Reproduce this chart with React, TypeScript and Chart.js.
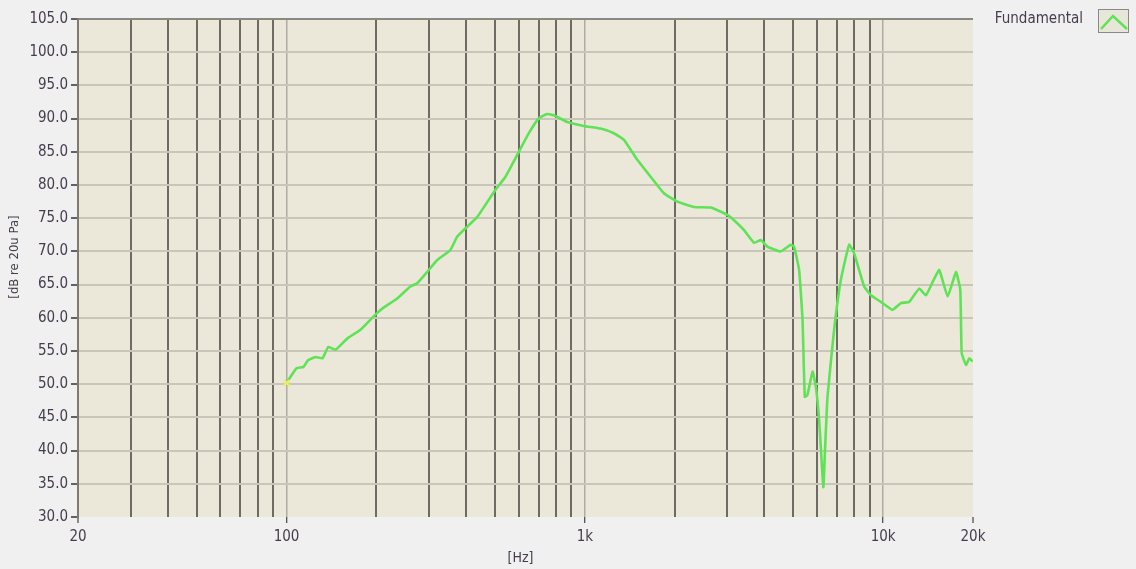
import React, { useEffect, useRef } from "react";
import { Chart, registerables } from "chart.js";

Chart.register(...registerables);

const freqHz = [100, 108, 114, 118, 125, 132, 138, 146, 160, 177, 191, 201, 211, 235, 260, 274, 296, 320, 354, 373, 403, 436, 464, 501, 542, 601, 649, 701, 748, 787, 873, 992, 1129, 1251, 1352, 1499, 1661, 1841, 2042, 2322, 2642, 3004, 3162, 3417, 3691, 3887, 4094, 4537, 4900, 5027, 5226, 5365, 5461, 5576, 5797, 5947, 6100, 6301, 6376, 6506, 6847, 7211, 7689, 7993, 8637, 9095, 9824, 10753, 11467, 12225, 13206, 13909, 14648, 15414, 16448, 17539, 18130, 18330, 18950, 19440, 19950];
const levelDb = [50.2, 52.4, 52.6, 53.6, 54.1, 53.9, 55.6, 55.2, 56.9, 58.2, 59.7, 60.7, 61.5, 62.9, 64.7, 65.2, 66.9, 68.7, 70.2, 72.2, 73.7, 75.2, 77.0, 79.25, 81.25, 85.0, 87.8, 90.05, 90.7, 90.5, 89.5, 88.9, 88.5, 87.8, 86.8, 83.8, 81.25, 78.75, 77.5, 76.7, 76.6, 75.5, 74.7, 73.2, 71.3, 71.7, 70.7, 70.0, 71.0, 70.7, 67.2, 59.7, 48.1, 48.4, 51.9, 49.6, 44.6, 34.5, 39.6, 48.1, 58.2, 65.7, 71.0, 69.7, 64.7, 63.4, 62.4, 61.2, 62.2, 62.4, 64.4, 63.4, 65.4, 67.2, 63.2, 66.9, 64.2, 54.7, 52.9, 53.9, 53.4];

const xGridValues = [20, 30, 40, 50, 60, 70, 80, 90, 100, 200, 300, 400, 500, 600, 700, 800, 900, 1000, 2000, 3000, 4000, 5000, 6000, 7000, 8000, 9000, 10000, 20000];
const xLabelValues = [20, 100, 1000, 10000, 20000];
const xLabelTexts = ["20", "100", "1k", "10k", "20k"];
const seriesName = "Fundamental";
const xTitle = "[Hz]";
const yTitle = "[dB re 20u Pa]";

const FONT = "'DejaVu Sans Condensed', 'Liberation Sans', sans-serif";
const TEXT = "#463c4e";
const DARK = "#6d6b63";
const LIGHT = "#c9c6b9";
const DECADE = "#aeaca3";
const GREEN = "#5fe356";

export default function App() {
  const ref = useRef<HTMLCanvasElement | null>(null);
  useEffect(() => {
    if (!ref.current) return;
    const decor = {
      id: "decor",
      beforeDraw(chart: any) {
        const { ctx, chartArea: a } = chart;
        ctx.save();
        ctx.fillStyle = "#f0f0f0";
        ctx.fillRect(0, 0, chart.width, chart.height);
        ctx.fillStyle = "#ebe8da";
        ctx.fillRect(a.left, a.top, a.right - a.left, a.bottom - a.top);
        ctx.restore();
      },
      afterDraw(chart: any) {
        const { ctx, chartArea: a } = chart;
        ctx.save();
        ctx.fillStyle = TEXT;
        ctx.font = `14px ${FONT}`;
        ctx.textAlign = "center";
        ctx.textBaseline = "middle";
        ctx.fillText(xTitle, (a.left + a.right) / 2 - 5, 558);
        ctx.save();
        ctx.translate(15, 257);
        ctx.rotate(-Math.PI / 2);
        ctx.font = `13px ${FONT}`;
        ctx.fillText(yTitle, 0, 0);
        ctx.restore();
        // legend
        ctx.textAlign = "right";
        ctx.font = `15px ${FONT}`;
        ctx.fillText(seriesName, 1083, 19);
        ctx.fillStyle = "#e8e6d8";
        ctx.fillRect(1098, 9, 31, 24);
        ctx.strokeStyle = "#8a8a84";
        ctx.lineWidth = 1;
        ctx.strokeRect(1098.5, 9.5, 30, 23);
        ctx.strokeStyle = GREEN;
        ctx.lineWidth = 2.5;
        ctx.beginPath();
        ctx.moveTo(1101, 29);
        ctx.lineTo(1113, 16);
        ctx.lineTo(1127, 29);
        ctx.stroke();
        ctx.restore();
      },
    };

    const chart = new Chart(ref.current, {
      type: "line",
      data: {
        datasets: [
          {
            label: seriesName,
            data: freqHz.map((f, i) => ({ x: f, y: levelDb[i] })),
            borderColor: GREEN,
            borderWidth: 2.6,
            tension: 0.12,
            pointRadius: (c: any) => (c.dataIndex === 0 ? 4 : 0),
            pointStyle: "crossRot",
            pointBorderColor: "#f0ec5a",
            pointBorderWidth: 2,
          },
        ],
      },
      options: {
        responsive: false,
        animation: false,
        layout: { padding: { top: 19, right: 163, left: 0, bottom: 0 } },
        plugins: { legend: { display: false }, tooltip: { enabled: false } },
        scales: {
          x: {
            type: "logarithmic",
            min: 20,
            max: 20000,
            afterBuildTicks: (s: any) => {
              s.ticks = xGridValues.map((v) => ({ value: v }));
            },
            afterFit: (s: any) => {
              s.height = 52;
            },
            border: { display: false },
            grid: {
              color: (c: any) => {
                const v = c.tick?.value;
                if (v === 20 || v === 20000) return "rgba(0,0,0,0)";
                if (v === 100 || v === 1000 || v === 10000) return DECADE;
                return DARK;
              },
              lineWidth: (c: any) => {
                const v = c.tick?.value;
                if (v === 100 || v === 1000 || v === 10000) return 1.5;
                return 2;
              },
              tickColor: (c: any) => (xLabelValues.includes(c.tick?.value) ? "#222" : "rgba(0,0,0,0)"),
              tickWidth: 1,
              tickLength: 6,
              drawTicks: true,
            },
            ticks: {
              autoSkip: false,
              maxRotation: 0,
              padding: 5,
              color: TEXT,
              font: { family: FONT, size: 15 },
              callback: (v: any) => {
                const i = xLabelValues.indexOf(Number(v));
                return i >= 0 ? xLabelTexts[i] : "";
              },
            },
          },
          y: {
            min: 30,
            max: 105,
            afterFit: (s: any) => {
              s.width = 78;
            },
            border: { display: true, color: "#7d7b72", width: 2 },
            grid: {
              color: (c: any) => {
                const v = c.tick?.value;
                if (v === 105) return "#8a8880";
                if (v === 30) return "rgba(0,0,0,0)";
                return LIGHT;
              },
              lineWidth: 2,
              tickColor: "#333",
              tickWidth: 1.5,
              tickLength: 7,
            },
            ticks: {
              stepSize: 5,
              padding: 3,
              color: TEXT,
              font: { family: FONT, size: 15 },
              callback: (v: any) => Number(v).toFixed(1),
            },
          },
        },
      },
      plugins: [decor],
    } as any);
    return () => chart.destroy();
  }, []);

  return (
    <div style={{ position: "absolute", left: 0, top: 0, width: 1136, height: 569, background: "#f0f0f0" }}>
      <canvas ref={ref} width={1136} height={569} style={{ display: "block" }} />
    </div>
  );
}
